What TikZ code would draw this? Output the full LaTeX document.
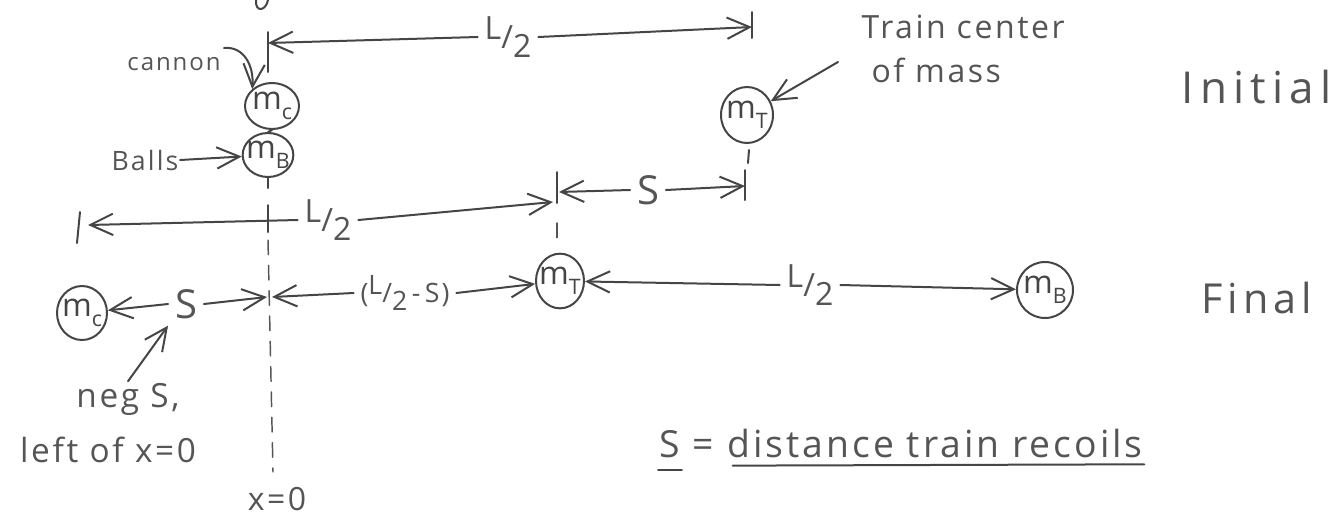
\documentclass[tikz,border=0pt]{standalone}
\usepackage{fontspec}
\setmainfont{Open Sans}[LetterSpace=8]
\usetikzlibrary{arrows.meta,shapes.geometric}
\definecolor{pencil}{HTML}{454545}
\definecolor{lead}{HTML}{555555}
\newcommand\halffrac[2]{\raisebox{0.28em}{#1}/\raisebox{-0.3em}{#2}}
\newcommand\fsz[1]{\fontsize{#1}{#1}\selectfont}
\newcommand\mlab[1]{\makebox[0pt]{m\raisebox{-0.3em}{\fsz{16pt}#1}}}
\tikzset{
  ink/.style={draw=pencil, line width=1.5pt, line cap=round, line join=round},
  arr/.style={ink, -{Straight Barb[length=17pt,width=16pt]}},
  dashln/.style={draw=lead, line width=1.1pt, dash pattern=on 11pt off 8pt, line cap=round},
  mass/.style={draw=pencil, line width=1.5pt, ellipse, inner sep=0pt, fill=white, text=pencil, font=\fsz{24pt}},
  lbl/.style={text=lead, inner sep=1pt},
  seglbl/.style={text=lead, inner sep=5pt},
}
\begin{document}
\begin{tikzpicture}[x=0.75pt,y=-0.75pt]
\useasboundingbox (0,0) rectangle (1332,519);

% clipped stroke at the top edge
\draw[ink] (256,0) .. controls (255,13) and (266,11) .. (268,0);

% ---------- masses ----------
\node[mass, minimum width=40.5pt, minimum height=34.5pt] (mc1) at (272,106) {\mlab{c}};
\node[mass, minimum width=38pt,   minimum height=33pt]   (mb1) at (268,155) {\mlab{B}};
\node[mass, minimum width=39pt,   minimum height=42pt]   (mt1) at (747,115) {\mlab{T}};
\node[mass, minimum width=37.5pt, minimum height=40.5pt] (mc2) at (82,313)  {\mlab{c}};
\node[mass, minimum width=36pt,   minimum height=41pt]   (mt2) at (560,281) {\mlab{T}};
\node[mass, minimum width=42pt,   minimum height=42pt]   (mb2) at (1045,290) {\mlab{B}};

% ---------- x = 0 line ----------
\draw[ink] (268,32) -- (268,72);
\draw[ink] (mc1.south) -- (mb1.north);
\draw[ink] (mb1.south) -- ++(0,10);
\draw[ink] (268,205) -- (268,232);
\draw[dashln] (268,240) -- (273,472);

% ---------- other ticks ----------
\draw[ink] (752,12) -- (752,38);
\draw[ink] (80,212) -- (77,243);
\draw[ink] (557,172) -- (557,203);
\draw[ink] (745,170) -- (745,200);
\draw[ink] (749,150) -- (748,163);
\draw[dashln] (557,223) -- (557,248);

% ---------- segment labels ----------
\node[seglbl, font=\fsz{24pt}] (Ltop) at (508,37)  {\halffrac{L}{2}};
\node[seglbl, font=\fsz{24pt}] (Lmid) at (328,220) {\halffrac{L}{2}};
\node[seglbl, font=\fsz{24pt}] (Lf)   at (810,285) {\halffrac{L}{2}};
\node[seglbl, font=\fsz{30pt}] (Sa)   at (648,190) {S};
\node[seglbl, font=\fsz{30pt}] (Sf)   at (186,304) {S};
\node[seglbl, font=\fsz{20pt}] (LS)   at (405,293) {(\halffrac{L}{2}\,-\,S)};

% ---------- tips ----------
\coordinate (tTopL) at (268,43);
\coordinate (tTopR) at (752,27);
\coordinate (tMidL) at (88,225);
\coordinate (tMidR) at (553,202);
\coordinate (tSL)   at (559,192);
\coordinate (tSR)   at (745,186);
\coordinate (tA)    at (267,297);
\coordinate (tB)    at (272,297);

\draw[arr] (Ltop.west) -- (tTopL);
\draw[arr] (Ltop.east) -- (tTopR);
\draw[arr] (Lmid.west) -- (tMidL);
\draw[arr] (Lmid.east) -- (tMidR);
\draw[arr] (Sa.west) -- (tSL);
\draw[arr] (Sa.east) -- (tSR);
\draw[arr] (Sf.west) -- (mc2);
\draw[arr] (Sf.east) -- (tA);
\draw[arr] (LS.west) -- (tB);
\draw[arr] (LS.east) -- (mt2);
\draw[arr] (Lf.west) -- (mt2);
\draw[arr] (Lf.east) -- (mb2);

% ---------- annotations ----------
\node[lbl, font=\fsz{18pt}] (cannon) at (174,64) {cannon};
\node[lbl, font=\fsz{20pt}] (balls) at (145,160) {Balls};
\node[lbl, font=\fsz{24pt}, anchor=west] (trainA) at (860,27) {Train center};
\node[lbl, font=\fsz{24pt}, anchor=west] (trainB) at (870,70) {of mass};
\node[lbl, font=\fsz{33pt}\addfontfeature{LetterSpace=14}, anchor=west] (initial) at (1180,87) {Initial};
\node[lbl, font=\fsz{31pt}\addfontfeature{LetterSpace=12}, anchor=west] (final) at (1200,298) {Final};
\node[lbl, font=\fsz{25pt}, anchor=base] (negS) at (128,407) {neg S,};
\node[lbl, font=\fsz{25pt}, anchor=base] (leftof) at (108,462) {left of x=0};
\node[lbl, font=\fsz{24pt}, anchor=base] (xzero) at (277,510) {x=0};

\coordinate (ca) at (224,48);
\coordinate (tc) at (838,62);
\draw[arr] (ca) .. controls (244,46) and (254,66) .. (mc1.north west);
\draw[arr] (tc) -- (mt1);
\draw[arr] (balls.east) -- (mb1);
\draw[arr] (negS.north) -- (Sf.south west);

% ---------- definition ----------
\node[lbl, font=\fsz{28pt}, anchor=base] (sdef) at (670,457) {S};
\node[lbl, font=\fsz{28pt}, anchor=base] (eqs) at (703,457) {=};
\node[lbl, font=\fsz{28pt}, anchor=base west] (dtr) at (726,457) {distance train recoils};
\draw[ink] ([yshift=-8pt]sdef.south west) -- ([yshift=-8pt]sdef.south east);
\draw[ink] ([xshift=5pt,yshift=-5pt]dtr.south west) -- ([yshift=-4pt]dtr.south east);
\end{tikzpicture}
\end{document}
